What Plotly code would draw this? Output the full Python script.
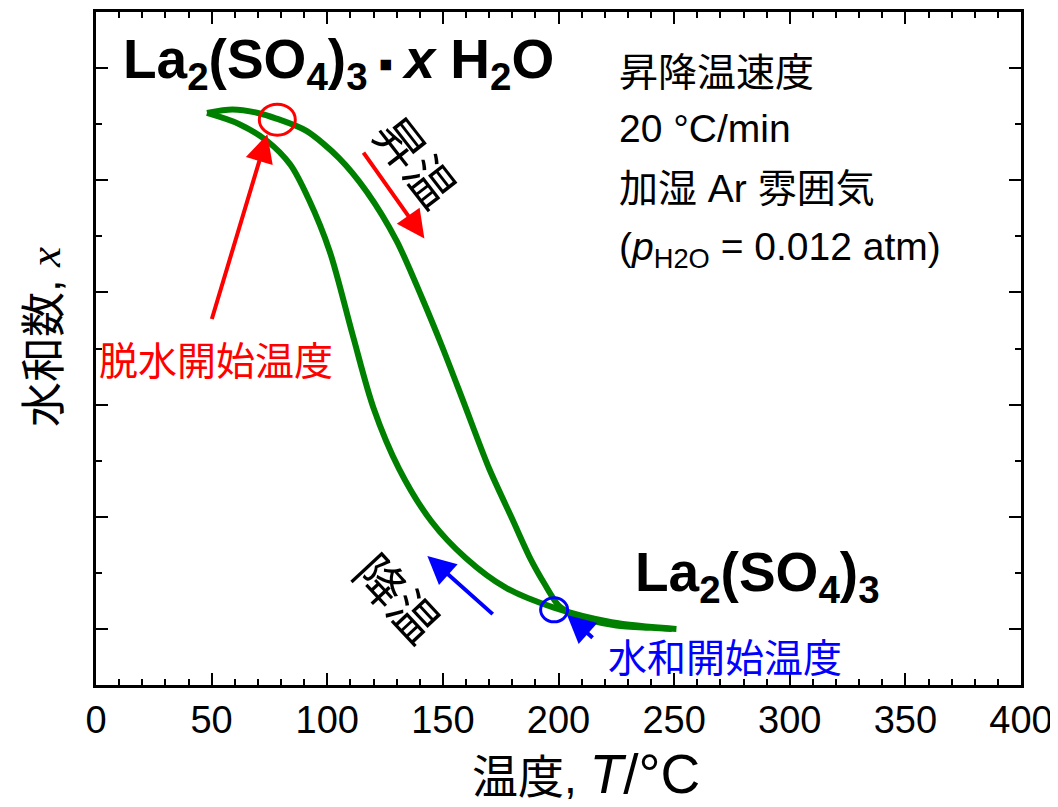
import plotly.graph_objects as go

# ---- data (y in arbitrary hydration-number units) ----
heat_T = [48, 59, 70, 78, 91, 105, 117, 130, 141, 150, 159, 170, 180, 188, 194, 200, 206, 213, 225, 240, 249]
heat_x = [4.60, 4.63, 4.60, 4.55, 4.44, 4.20, 3.90, 3.46, 2.95, 2.50, 2.02, 1.43, 0.98, 0.62, 0.40, 0.21, 0.13, 0.08, 0.03, 0.01, 0.00]

cool_T = [251, 223, 198, 177, 160, 145, 131, 120, 111, 101, 92, 84, 74, 62, 48]
cool_x = [0.00, 0.06, 0.19, 0.37, 0.63, 0.96, 1.43, 1.97, 2.62, 3.37, 3.83, 4.14, 4.35, 4.50, 4.60]

x_ticks = [0, 50, 100, 150, 200, 250, 300, 350, 400]

# marker points
dehyd_T, dehyd_x = 78.4, 4.54
hyd_T, hyd_x = 198.1, 0.17

GREEN = "rgb(0,128,0)"
FONT = "Liberation Sans, Arial, Noto Sans CJK JP"
CJK = "Noto Sans CJK JP, Liberation Sans"

fig = go.Figure()
fig.add_trace(go.Scatter(x=heat_T, y=heat_x, mode="lines",
                         line=dict(color=GREEN, width=6, shape="spline", smoothing=0.8),
                         showlegend=False, hoverinfo="skip"))
fig.add_trace(go.Scatter(x=cool_T, y=cool_x, mode="lines",
                         line=dict(color=GREEN, width=6, shape="spline", smoothing=0.9),
                         showlegend=False, hoverinfo="skip"))

# circles
fig.add_shape(type="circle", xref="x", yref="y", xsizemode="pixel", ysizemode="pixel",
              xanchor=dehyd_T, yanchor=dehyd_x, x0=-18, x1=18, y0=-15.5, y1=15.5,
              line=dict(color="red", width=3))
fig.add_shape(type="circle", xref="x", yref="y", xsizemode="pixel", ysizemode="pixel",
              xanchor=hyd_T, yanchor=hyd_x, x0=-13.5, x1=13.5, y0=-12, y1=12,
              line=dict(color="blue", width=3))

def arrow(x, y, ax, ay, color):
    fig.add_annotation(x=x, y=y, ax=ax, ay=ay, xref="x", yref="y", axref="x", ayref="y",
                       text="", showarrow=True, arrowhead=2, arrowsize=1.4,
                       arrowwidth=4, arrowcolor=color)

arrow(74.1, 4.41, 49.9, 2.75, "red")
arrow(142.0, 3.48, 115.2, 4.26, "red")
arrow(143.3, 0.65, 172.2, 0.12, "blue")
arrow(203.7, 0.125, 215.4, -0.09, "blue")

def ptext(text, px, py, size, color="black", xanchor="left", yanchor="middle", angle=0, family=FONT):
    fig.add_annotation(x=(px - 96) / 925, y=(685 - py) / 673, xref="paper", yref="paper",
                       text=text, showarrow=False, xanchor=xanchor, yanchor=yanchor,
                       textangle=angle, font=dict(size=size, color=color, family=family))

ptext("<b>La<sub>2</sub>(SO<sub>4</sub>)<sub>3</sub>\u2009<span style=\"font-size:42px\">▪</span>\u2009<i>x</i> H<sub>2</sub>O</b>",
      121, 63, 55)
ptext("<b>La<sub>2</sub>(SO<sub>4</sub>)<sub>3</sub></b>", 633, 576, 55)

ptext("昇降温速度", 617, 72, 39)
ptext("20 °C/min", 617, 128, 39)
ptext("加湿 Ar 雰囲気", 617, 189, 39)
ptext("(<i>p</i><sub>H2O</sub> = 0.012 atm)", 617, 250, 39)

ptext("脱水開始温度", 97, 362, 39, color="red")
ptext("水和開始温度", 606, 658, 39, color="blue")

ptext("昇温", 418, 160, 49, xanchor="center", angle=52, family=CJK)
ptext("降温", 400, 596, 49, xanchor="center", angle=47, family=CJK)

# axis titles
ptext("<span style=\"font-size:46px\">温度, </span><i>T</i>/°C", 586, 774, 55, xanchor="center")
ptext("水和数, <span style=\"font-family:'Liberation Serif'\"><i>x</i></span>", 45, 337, 45,
      xanchor="center", angle=-90)

axis_common = dict(showline=True, linecolor="black", linewidth=2.5, mirror="allticks",
                   ticks="inside", tickwidth=2, tickcolor="black", showgrid=False, zeroline=False,
                   automargin=False)

fig.update_xaxes(range=[0, 400], tickvals=x_ticks, ticktext=[str(v) for v in x_ticks], ticklen=12,
                 tickfont=dict(size=38, color="black", family=FONT),
                 minor=dict(dtick=10, ticklen=6, tickwidth=2, tickcolor="black", ticks="inside"),
                 **axis_common)
fig.update_yaxes(range=[-0.5, 5.5], tick0=0, dtick=1, ticklen=12, showticklabels=False,
                 minor=dict(dtick=0.5, ticklen=6, tickwidth=2, tickcolor="black", ticks="inside"),
                 **axis_common)

# the page body adds an 8 px margin, so the figure is drawn 8 px smaller
fig.update_layout(width=1050, height=799, margin=dict(l=88, r=37, t=4, b=122),
                  plot_bgcolor="white", paper_bgcolor="white",
                  font=dict(family=FONT, color="black"))

fig.write_html("out.html")
